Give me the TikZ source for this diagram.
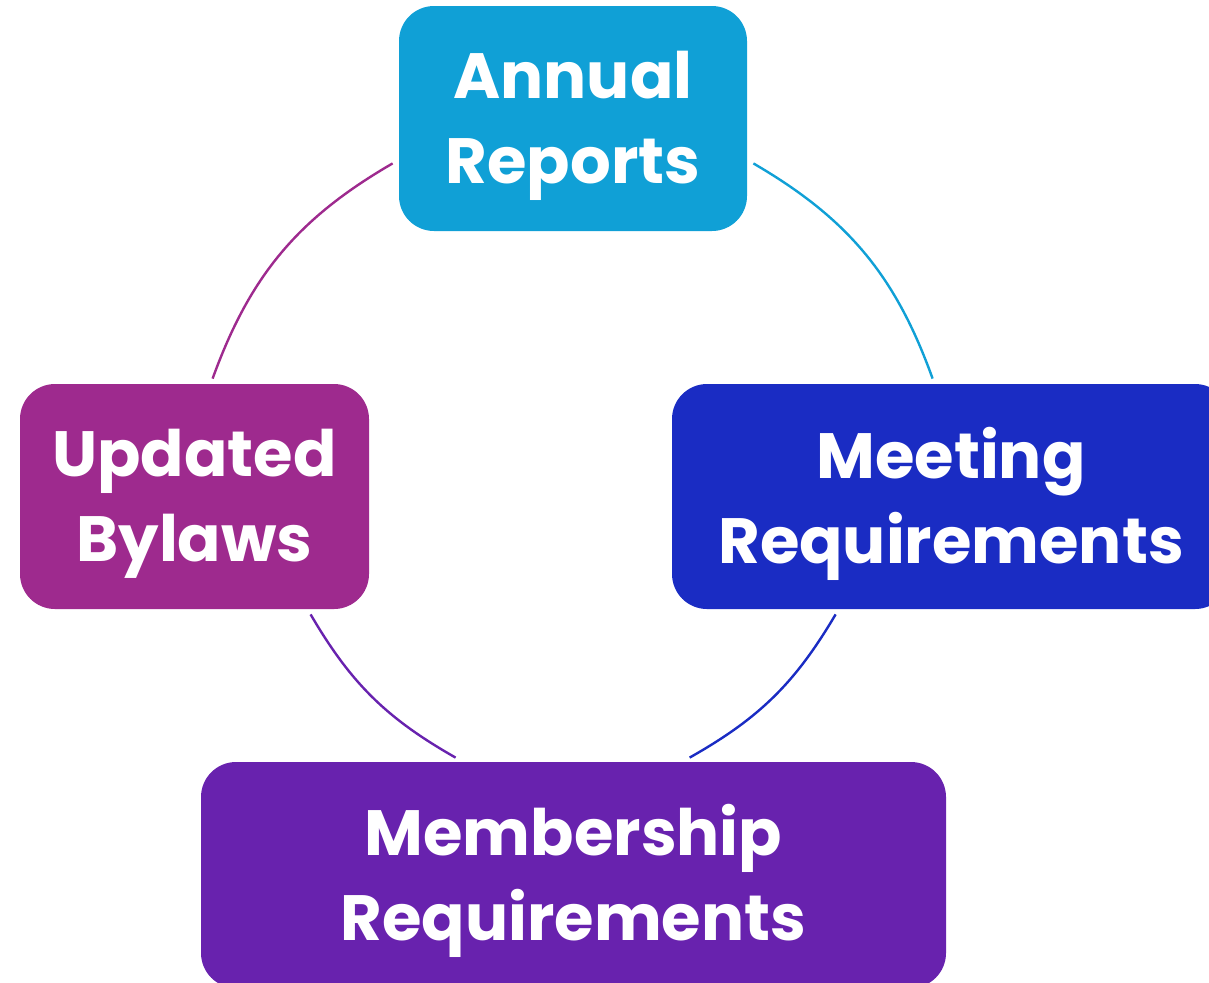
\documentclass[tikz,border=0pt]{standalone}
\usepackage{fontspec}
\setmainfont{Poppins}
\usetikzlibrary{calc}
\definecolor{cAR}{RGB}{16,160,214}
\definecolor{cUB}{RGB}{158,42,142}
\definecolor{cMR}{RGB}{26,44,195}
\definecolor{cMS}{RGB}{104,34,174}
\begin{document}
\begin{tikzpicture}[x=0.5pt,y=-0.5pt,
  box/.style={rectangle,rounded corners=17.5pt,inner sep=0pt,minimum height=112.5pt},
  label/.style={inner sep=0pt,align=center,text=white,
    font=\fontsize{32}{42.5}\selectfont\bfseries},
  arc/.style={line width=1.2pt}]
\useasboundingbox (0,0) rectangle (1209,982);
\node[box,fill=cAR,minimum width=174pt] (ar) at (573,118.5) {};
\node[box,fill=cUB,minimum width=174.5pt] (ub) at (194.5,496.5) {};
\node[box,fill=cMR,minimum width=279pt] (mr) at (951,496.5) {};
\node[box,fill=cMS,minimum width=372.5pt,minimum height=113pt] (ms) at (573.5,875) {};
\node[label] (arT) at ($(ar.center)+(0,7)$) {Annual\\Reports};
\node[label] (ubT) at ($(ub.center)+(0,7)$) {Updated\\Bylaws};
\node[label] (mrT) at ($(mr.center)+(0,7)$) {Meeting\\Requirements};
\node[label] (msT) at ($(ms.center)+(0,6)$) {Membership\\Requirements};
\coordinate (a1) at ($(ar.south east)+(6,-68)$);
\coordinate (a2) at ($(ar.south west)+(-6,-68)$);
\coordinate (m1) at ($(mr.north west)+(261,-5)$);
\coordinate (m2) at ($(mr.south west)+(164,5)$);
\coordinate (u1) at ($(ub.north west)+(193,-5)$);
\coordinate (u2) at ($(ub.south west)+(291,5)$);
\coordinate (s1) at ($(ms.north west)+(255,-4)$);
\coordinate (s2) at ($(ms.north west)+(489,-4)$);
\draw[arc,cAR] (a1) to[bend left=20] (m1);
\draw[arc,cUB] (a2) to[bend right=20] (u1);
\draw[arc,cMS] (u2) to[bend right=15] (s1);
\draw[arc,cMR] (m2) to[bend left=15] (s2);
\end{tikzpicture}
\end{document}
